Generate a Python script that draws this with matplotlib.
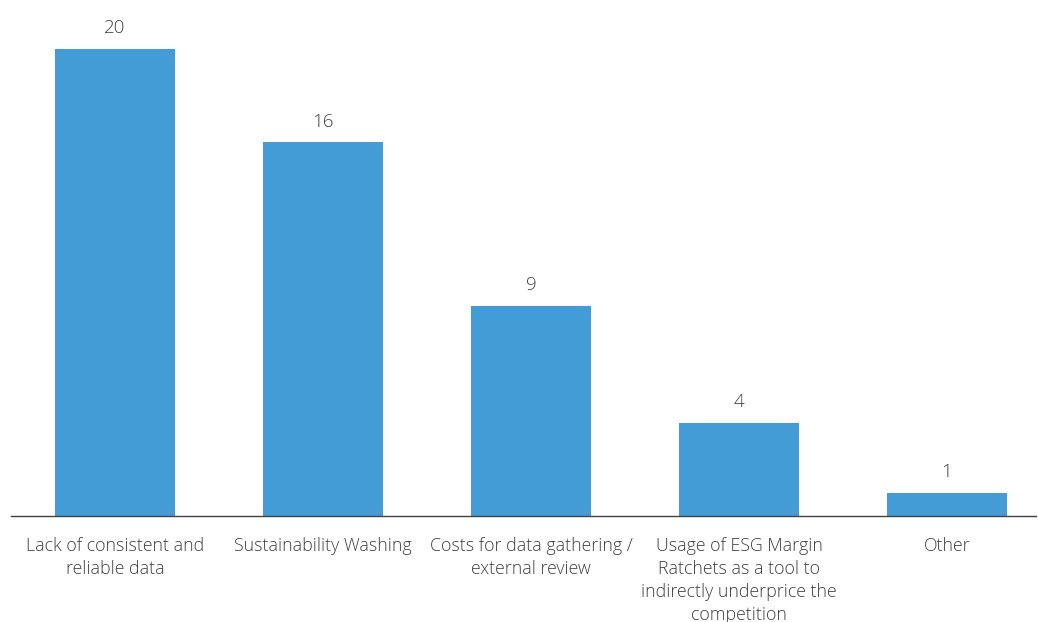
import matplotlib.pyplot as plt

categories = ["Lack of consistent and\nreliable data",
              "Sustainability Washing",
              "Costs for data gathering /\nexternal review",
              "Usage of ESG Margin\nRatchets as a tool to\nindirectly underprice the\ncompetition",
              "Other"]
values = [20, 16, 9, 4, 1]

plt.rcParams['font.family'] = ['Open Sans', 'DejaVu Sans']

fig = plt.figure(figsize=(10.38, 6.22), dpi=100)
ax = fig.add_axes([11/1038, 106/622, 1025/1038, 513.7/622])
x = list(range(len(values)))
bars = ax.bar(x, values, width=0.577, color='#439CD6', zorder=2)
ax.set_xlim(-0.5, 4.428)
ax.set_ylim(0, 22)
for xi, v in zip(x, values):
    ax.text(xi, v + 0.5, str(v), ha='center', va='bottom', fontsize=13.5,
            color='#404040', fontweight='light')
ax.set_xticks(x)
ax.set_xticklabels(categories, fontsize=12.8, color='#404040', linespacing=1.36,
                   fontweight='light')
ax.tick_params(axis='x', length=0, pad=15)
ax.set_yticks([])
for s in ['top', 'right', 'left']:
    ax.spines[s].set_visible(False)
ax.spines['bottom'].set_color('#404040')
ax.spines['bottom'].set_linewidth(1.0)
ax.spines['bottom'].set_zorder(3)
fig.savefig('out.png', dpi=100)
